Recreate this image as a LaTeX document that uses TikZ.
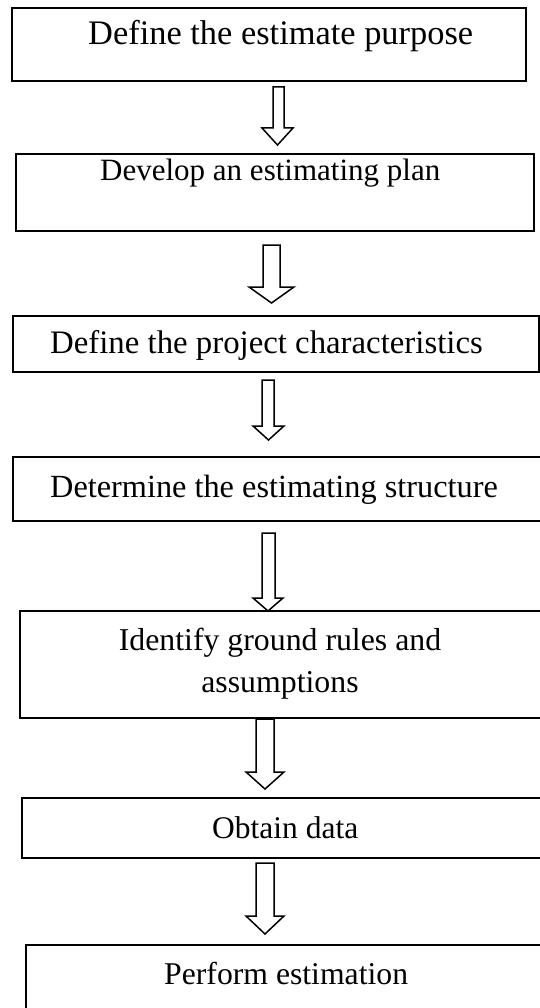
\documentclass[tikz,border=0pt]{standalone}
\usepackage{fontspec}
\setmainfont{Liberation Serif}
\begin{document}
\begin{tikzpicture}[x=1pt,y=-1pt,
  box/.style={draw, line width=1.6pt, rectangle, inner sep=0pt, anchor=north west},
  txt/.style={inner sep=0pt},
  fs/.style={font=\fontsize{#1}{42}\selectfont},
  blockarr/.style={draw, line width=1.5pt, fill=white, line join=miter}]
\clip (0,0) rectangle (540,1008);
\fill[white] (0,0) rectangle (540,1008);
% boxes
\node[box, minimum width=514pt, minimum height=73pt] (b1) at (11,7) {};
\node[box, minimum width=518pt, minimum height=77pt] (b2) at (15,153) {};
\node[box, minimum width=526pt, minimum height=56pt] (b3) at (12,315) {};
\node[box, minimum width=540pt, minimum height=64pt] (b4) at (12,456) {};
\node[box, minimum width=535pt, minimum height=107pt] (b5) at (19,610) {};
\node[box, minimum width=535pt, minimum height=60pt] (b6) at (21,797) {};
\node[box, minimum width=530pt, minimum height=80pt] (b7) at (25,944) {};
% texts
\node[txt, fs=34.4, anchor=base west] (t1) at (88,45) {Define the estimate purpose};
\node[txt, fs=31, anchor=base west] (t2) at (100,181) {Develop an estimating plan};
\node[txt, fs=32.8, anchor=base west] (t3) at (50,353) {Define the project characteristics};
\node[txt, fs=32.3, anchor=base west] (t4) at (50,497) {Determine the estimating structure};
\node[txt, fs=31.8, anchor=base] (t5) at (280,692) {\begin{tabular}[b]{@{}c@{}}Identify ground rules and\\ assumptions\end{tabular}};
\node[txt, fs=31.5, anchor=base west] (t6) at (212,838) {Obtain data};
\node[txt, fs=31.7, anchor=base west] (t7) at (164,984) {Perform estimation};
% block arrows
\draw[blockarr] (273,87) -- (284,87) -- (284,128) -- (293,128) -- (277.5,145) -- (262,128) -- (273,128) -- cycle;
\draw[blockarr] (263,245) -- (280,245) -- (280,287) -- (294,287) -- (271.5,303) -- (249,287) -- (263,287) -- cycle;
\draw[blockarr] (262,380) -- (274,380) -- (274,426) -- (284,426) -- (268.5,440) -- (253,426) -- (262,426) -- cycle;
\draw[blockarr] (262,533) -- (275,533) -- (275,598) -- (283,598) -- (268,611) -- (253,598) -- (262,598) -- cycle;
\draw[blockarr] (256,719) -- (274,719) -- (274,772) -- (284,772) -- (265,789) -- (246,772) -- (256,772) -- cycle;
\draw[blockarr] (256,863) -- (274,863) -- (274,916) -- (284,916) -- (265,934) -- (246,916) -- (256,916) -- cycle;
\end{tikzpicture}
\end{document}
